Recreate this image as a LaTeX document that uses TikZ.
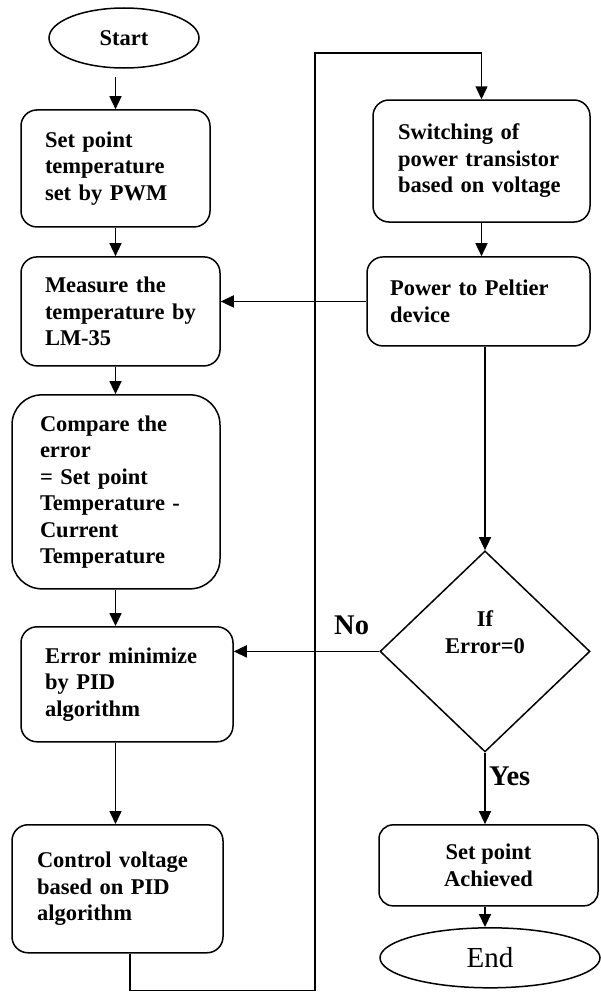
\documentclass[tikz,border=0pt]{standalone}
\usepackage{fontspec}
\setmainfont{Liberation Serif}
\usepackage{tikz}
\usetikzlibrary{shapes.geometric,arrows.meta,calc}
\tikzstyle{terminator} = [ellipse, draw, text centered, line width=1.5pt, inner sep=0pt]
\tikzstyle{process} = [rectangle, draw, rounded corners=16pt, align=left, inner sep=0pt, line width=1.5pt, font=\bfseries\fontsize{22.5}{26.5}\selectfont]
\tikzstyle{decision} = [diamond, draw, align=center, inner sep=0pt, line width=1.5pt, font=\bfseries\fontsize{22.5}{26.5}\selectfont]
\tikzstyle{connector} = [line width=1.5pt, -{Triangle[length=13pt,width=12pt]}]
\tikzstyle{branch} = [font=\bfseries\fontsize{28.5}{32}\selectfont]

\begin{document}
\begin{tikzpicture}[x=1pt,y=1pt]
    \useasboundingbox (0,0) rectangle (600,-998);
    \node (start) [terminator, minimum width=150pt, minimum height=60pt, font=\bfseries\fontsize{22.5}{26.5}\selectfont] at (124,-38) {Start};
    \node (set) [process, below of = start, xshift=-8.5pt, yshift=-102pt, minimum width=189pt, minimum height=117pt, text width=141pt] {Set point\\temperature\\set by PWM};
    \node (measure) [process, below of = set, xshift=5pt, yshift=-114.5pt, minimum width=199pt, minimum height=109pt, text width=151pt] {Measure the\\temperature~by\\LM-35};
    \node (compare) [process, below of = measure, xshift=-4.5pt, yshift=-152pt, rounded corners=30pt, minimum width=208pt, minimum height=194pt, text width=152pt] {Compare the\\error\\= Set point\\Temperature -\\Current\\Temperature};
    \node (pid) [process, below of = compare, xshift=11pt, yshift=-164pt, minimum width=212pt, minimum height=115pt, text width=164pt] {Error minimize\\by PID\\algorithm};
    \node (control) [process, below of = pid, xshift=-9.5pt, yshift=-176pt, minimum width=211pt, minimum height=128pt, text width=161pt] {Control voltage\\based on PID\\algorithm};
    \node (switch) [process, minimum width=217pt, minimum height=122pt, text width=167pt] at (481.5,-161) {Switching of\\power transistor\\based on voltage};
    \node (power) [process, below of = switch, xshift=-3pt, yshift=-112pt, minimum width=223pt, minimum height=89pt, text width=177pt] {Power to Peltier\\device};
    \node (cond) [decision, below of = power, xshift=6.5pt, yshift=-321.5pt, minimum width=210pt, minimum height=201pt, text depth=39pt] {If\\Error=0};
    \node (done) [process, below of = cond, xshift=3.5pt, yshift=-185.5pt, align=center, rounded corners=14pt, minimum width=219pt, minimum height=81pt] {Set point\\Achieved};
    \node (end) [terminator, below of = done, xshift=1.5pt, yshift=-64pt, minimum width=220pt, minimum height=60pt, font=\fontsize{29}{32}\selectfont] {End};
    \coordinate (looptop) at (315,-53);
    \draw [connector, shorten <=8pt] (start.south -| set) -- (set.north);
    \draw [connector] (set) -- (measure.north -| set);
    \draw [connector] (measure.south -| set) -- (compare.north -| set);
    \draw [connector] (compare.south -| set) -- (pid.north -| set);
    \draw [connector] (pid.south -| set) -- (control.north -| set);
    \draw [connector] ([xshift=12.5pt]control.south) -- ++(0,-37) -| (looptop) -| (switch.north);
    \draw [connector] (switch) -- (power.north -| switch);
    \draw [connector] (power) -- (power -| measure.east);
    \draw [connector] (power.south -| cond) -- (cond.north);
    \draw [connector] (cond) -- node[branch, pos=0.19, yshift=26pt] {No} (cond -| pid.east);
    \draw [connector] (cond) -- node[branch, right, pos=0.33] {Yes} (done.north -| cond);
    \draw [connector] (done.south -| cond) -- (end.north -| cond);
\end{tikzpicture}
\end{document}
